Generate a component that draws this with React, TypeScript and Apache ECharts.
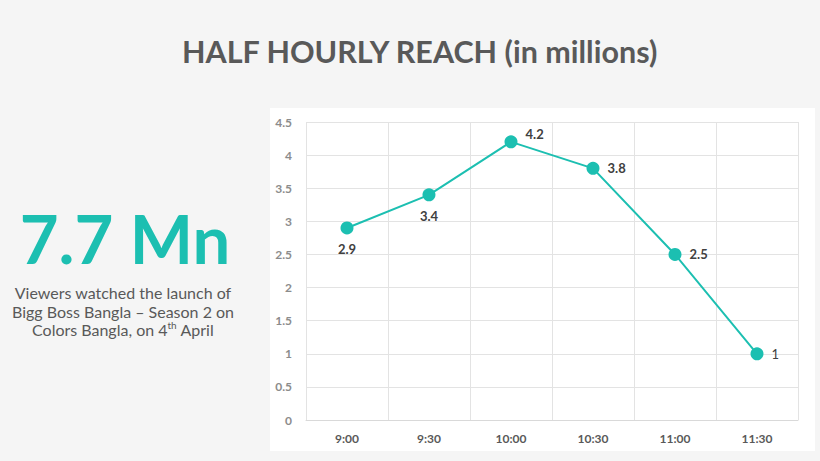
import { useEffect, useRef } from 'react';
import * as echarts from 'echarts';

const slots = ['9:00', '9:30', '10:00', '10:30', '11:00', '11:30'];
const reach = [2.9, 3.4, 4.2, 3.8, 2.5, 1];
const labelSides = ['bottom', 'bottom', 'right', 'right', 'right', 'right'];

const TEAL = '#1cbfb1';
const GREY = '#595959';

export default function App() {
  const chartRef = useRef<HTMLDivElement | null>(null);

  useEffect(() => {
    document.body.style.margin = '0';
    if (!chartRef.current) return;
    const chart = echarts.init(chartRef.current, null, { renderer: 'svg' });

    chart.setOption({
      animation: false,
      backgroundColor: '#f5f5f5',
      title: {
        text: 'HALF HOURLY REACH (in millions)',
        left: 182,
        top: 35,
        padding: 0,
        textStyle: { fontFamily: 'Lato', fontWeight: 'bold', fontSize: 30.5, color: GREY },
      },
      graphic: [
        {
          type: 'rect',
          z: -10,
          silent: true,
          shape: { x: 270, y: 108, width: 545, height: 343 },
          style: { fill: '#ffffff' },
        },
        {
          type: 'text',
          x: 125,
          y: 238,
          style: {
            text: '7.7 Mn',
            fill: TEAL,
            font: 'bold 67px Lato',
            align: 'center',
            verticalAlign: 'middle',
          },
        },
        {
          type: 'text',
          x: 123,
          y: 311,
          style: {
            text: 'Viewers watched the launch of\nBigg Boss Bangla – Season 2 on\nColors Bangla, on 4{sup|th} April',
            fill: GREY,
            fontFamily: 'Lato',
            fontSize: 16,
            lineHeight: 18.5,
            align: 'center',
            verticalAlign: 'middle',
            rich: {
              sup: { fontSize: 10, verticalAlign: 'top', fill: GREY, fontFamily: 'Lato', padding: [0, 0, 8, 0] },
            },
          },
        },
      ],
      grid: { left: 306, right: 22, top: 122, bottom: 41 },
      xAxis: {
        type: 'category',
        data: slots,
        boundaryGap: true,
        axisLine: { lineStyle: { color: '#d9d9d9' } },
        axisTick: { show: false },
        axisLabel: { color: GREY, fontFamily: 'Lato', fontWeight: 'bold', fontSize: 12, margin: 12 },
        splitLine: { show: true, lineStyle: { color: '#e3e3e3' } },
      },
      yAxis: {
        type: 'value',
        min: 0,
        max: 4.5,
        interval: 0.5,
        axisLine: { show: false },
        axisTick: { show: false },
        axisLabel: { color: '#8c8c8c', fontFamily: 'Lato', fontWeight: 'bold', fontSize: 12, margin: 14 },
        splitLine: { lineStyle: { color: '#e3e3e3' } },
      },
      series: [
        {
          type: 'line',
          data: reach.map((v, i) => ({
            value: v,
            label: {
              position: labelSides[i],
              offset: i === 2 ? [0, -8] : [0, 0],
              fontWeight: i === 5 ? 'normal' : 'bold',
            },
          })),
          symbol: 'circle',
          symbolSize: 13,
          lineStyle: { color: TEAL, width: 2 },
          itemStyle: { color: TEAL },
          label: {
            show: true,
            color: '#404040',
            fontFamily: 'Lato',
            fontSize: 13,
            distance: 8,
          },
        },
      ],
    });

    return () => chart.dispose();
  }, []);

  return <div ref={chartRef} style={{ width: 820, height: 461 }} />;
}
